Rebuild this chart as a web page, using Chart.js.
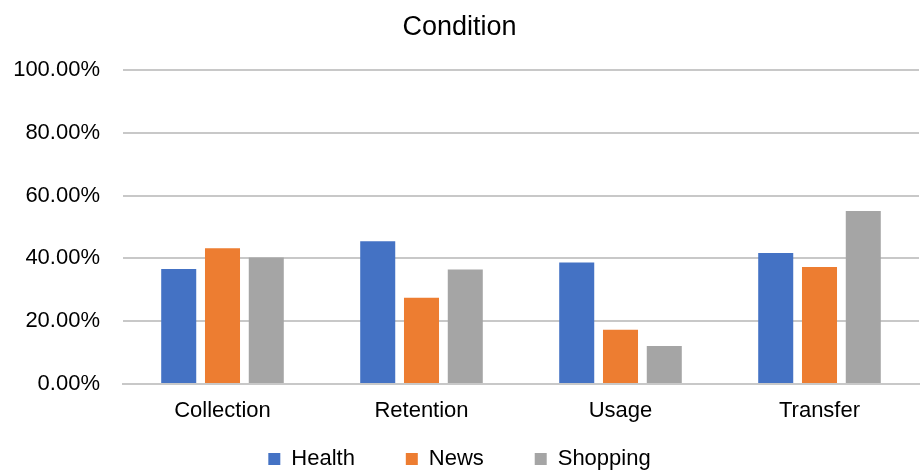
<!DOCTYPE html>
<html>
<head>
<meta charset="utf-8">
<script src="https://cdn.jsdelivr.net/npm/chart.js@4"></script>
<style>
  html, body { margin: 0; padding: 0; background: #fff; }
  #wrap { width: 920px; height: 470px; }
</style>
</head>
<body>
<div id="wrap"><canvas id="grafico"></canvas></div>
<script>
// categorias e valores (fração)
const categorias = ["Collection", "Retention", "Usage", "Transfer"];
const health = [0.366, 0.455, 0.387, 0.417];
const news = [0.432, 0.275, 0.173, 0.373];
const shopping = [0.403, 0.365, 0.121, 0.551];
const ticksY = [0, 0.2, 0.4, 0.6, 0.8, 1.0];

const FONTE = "'Liberation Sans', Arial, sans-serif";
Chart.defaults.font.family = FONTE;
Chart.defaults.color = "#000";

function serie(nome, dados, cor) {
  return {
    label: nome,
    data: dados,
    backgroundColor: cor,
    borderWidth: 0,
    categoryPercentage: 0.66,
    barPercentage: 0.8,
  };
}

const ctx = document.getElementById("grafico").getContext("2d");

new Chart(ctx, {
  type: "bar",
  data: {
    labels: categorias,
    datasets: [
      serie("Health", health, "#4472c4"),
      serie("News", news, "#ed7d31"),
      serie("Shopping", shopping, "#a5a5a5"),
    ],
  },
  options: {
    responsive: true,
    maintainAspectRatio: false,
    animation: false,
    layout: { padding: { left: 0, right: 1, top: 0, bottom: -10 } },
    plugins: {
      title: {
        display: true,
        text: "Condition",
        font: { size: 27, weight: "normal" },
        color: "#000",
        padding: { top: 11, bottom: 26.6 },
      },
      legend: {
        position: "bottom",
        labels: {
          boxWidth: 12,
          boxHeight: 12,
          padding: 2,
          font: { size: 22 },
          color: "#000",
          //espaço entre os itens da legenda
          generateLabels: (chart) => {
            const itens = Chart.defaults.plugins.legend.labels.generateLabels(chart);
            itens.forEach((item, i) => {
              if (i < itens.length - 1) item.text += "        ";
            });
            return itens;
          },
        },
      },
      tooltip: { enabled: false },
    },
    scales: {
      x: {
        afterFit: (scale) => { scale.height = 62; },
        grid: { display: false, drawTicks: false },
        border: { display: true, color: "#c8c8c8", width: 2 },
        ticks: { font: { size: 22 }, padding: 14, color: "#000" },
      },
      y: {
        min: 0,
        max: 1,
        afterFit: (scale) => { scale.width = 123; },
        afterBuildTicks: (scale) => {
          scale.ticks = ticksY.map((v) => ({ value: v }));
        },
        grid: { color: "#c8c8c8", lineWidth: 2, drawTicks: false },
        border: { display: false },
        ticks: {
          font: { size: 22 },
          padding: 23,
          color: "#000",
          callback: (v) => (v * 100).toFixed(2) + "%",
        },
      },
    },
  },
});
</script>
</body>
</html>
